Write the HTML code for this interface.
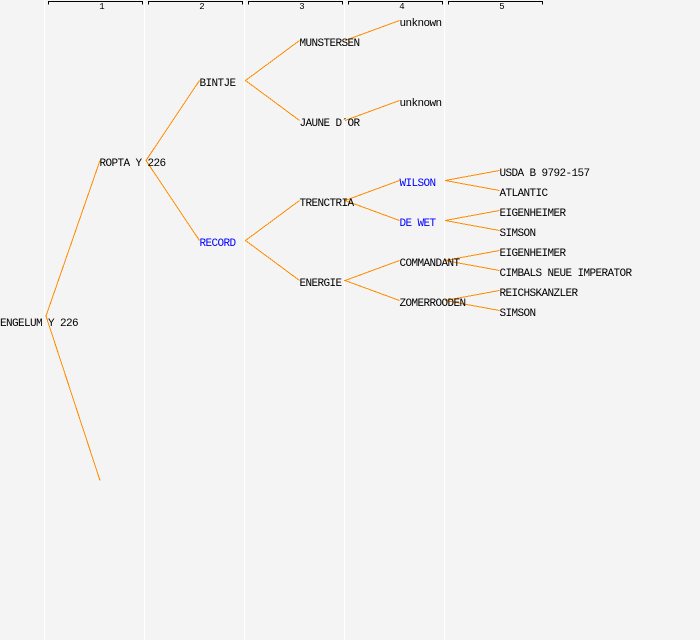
<!DOCTYPE html>
<html><head><meta charset="utf-8"><style>
html,body{margin:0;padding:0;background:#f4f4f4;}
svg{display:block;}
text{font-family:"Liberation Mono",monospace;font-size:11px;letter-spacing:-0.6px;fill:#000;}
.b{fill:#0000ff;}
.h{font-size:9px;letter-spacing:0;text-anchor:middle;}
</style></head><body>
<svg width="700" height="640" viewBox="0 0 700 640" xmlns="http://www.w3.org/2000/svg">
<rect width="700" height="640" fill="#f4f4f4"/>
<g fill="#ffffff">
<rect x="44" y="0" width="1" height="640"/>
<rect x="144" y="0" width="1" height="640"/>
<rect x="244" y="0" width="1" height="640"/>
<rect x="344" y="0" width="1" height="640"/>
<rect x="444" y="0" width="1" height="640"/>
</g>
<g stroke="#000" stroke-width="1" fill="none" shape-rendering="crispEdges">
<path d="M48.5 4.5V1.5H142.5V4.5"/>
<path d="M148.5 4.5V1.5H242.5V4.5"/>
<path d="M248.5 4.5V1.5H342.5V4.5"/>
<path d="M348.5 4.5V1.5H442.5V4.5"/>
<path d="M448.5 4.5V1.5H542.5V4.5"/>
</g>
<text class="h" x="102" y="9">1</text>
<text class="h" x="202" y="9">2</text>
<text class="h" x="302" y="9">3</text>
<text class="h" x="402" y="9">4</text>
<text class="h" x="502" y="9">5</text>
<g stroke="#ff8c00" stroke-width="1" fill="none" shape-rendering="crispEdges">
<path d="M100 160.5L46 316L100 480.5"/>
<path d="M199.5 80.5L146 160.5L199.5 240.5"/>
<path d="M299.5 40.5L245.5 80.5L299.5 120.5"/>
<path d="M299.5 200.5L245.5 240.5L299.5 280.5"/>
<path d="M399.5 20.5L345 40.5"/>
<path d="M399.5 100.5L345 120.5"/>
<path d="M399.5 180.5L345 200.5L399.5 220.5"/>
<path d="M399.5 260.5L345 280.5L399.5 300.5"/>
<path d="M499.5 170.5L445 180.5L499.5 190.5"/>
<path d="M499.5 210.5L445 220.5L499.5 230.5"/>
<path d="M499.5 250.5L445 260.5L499.5 270.5"/>
<path d="M499.5 290.5L445 300.5L499.5 310.5"/>
</g>
<text x="0" y="326">ENGELUM Y 226</text>
<text x="99.5" y="166">ROPTA Y 226</text>
<text x="199.5" y="86">BINTJE</text>
<text class="b" x="199.5" y="246">RECORD</text>
<text x="299.5" y="46">MUNSTERSEN</text>
<text x="299.5" y="126">JAUNE D´OR</text>
<text x="299.5" y="206">TRENCTRIA</text>
<text x="299.5" y="286">ENERGIE</text>
<text x="399.5" y="26">unknown</text>
<text x="399.5" y="106">unknown</text>
<text class="b" x="399.5" y="186">WILSON</text>
<text class="b" x="399.5" y="226">DE WET</text>
<text x="399.5" y="266">COMMANDANT</text>
<text x="399.5" y="306">ZOMERROODEN</text>
<text x="499.5" y="176">USDA B 9792-157</text>
<text x="499.5" y="196">ATLANTIC</text>
<text x="499.5" y="216">EIGENHEIMER</text>
<text x="499.5" y="236">SIMSON</text>
<text x="499.5" y="256">EIGENHEIMER</text>
<text x="499.5" y="276">CIMBALS NEUE IMPERATOR</text>
<text x="499.5" y="296">REICHSKANZLER</text>
<text x="499.5" y="316">SIMSON</text>
</svg>
</body></html>
